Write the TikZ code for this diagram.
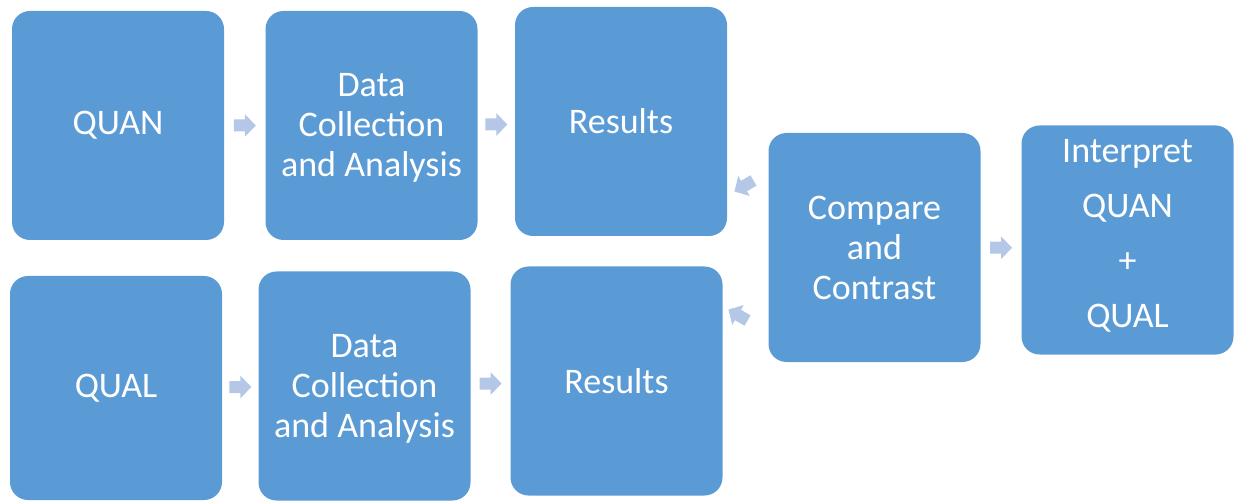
\documentclass[tikz,border=0pt]{standalone}
\usepackage{fontspec}
\setmainfont{Carlito}
\usetikzlibrary{calc}
\definecolor{boxblue}{HTML}{5B9BD5}
\definecolor{arrowblue}{HTML}{B4C7E7}
\tikzset{
  box/.style={fill=boxblue, rounded corners=18pt, text=white, align=center,
    minimum width=212pt, minimum height=229pt, inner sep=0pt,
    font=\fontsize{36}{40}\selectfont},
  boxtext/.style={text=white, align=center, inner sep=0pt, font=\fontsize{36}{55}\selectfont},
  blockarr/.pic={\fill[arrowblue] (-11,-6) -- (0,-6) -- (0,-11.5) -- (11,0) -- (0,11.5) -- (0,6) -- (-11,6) -- cycle;}
}
\begin{document}
\begin{tikzpicture}[x=1pt,y=-1pt]
\useasboundingbox (0,0) rectangle (1238,502);
\node[box] (q1) at (118,125.5) {QUAN};
\node[box] (d1) at (371.5,125.5) {\strut Data\\Collection\\and Analysis};
\node[box] (r1) at (621,121.5) {Results};
\node[box, minimum height=224pt] (q2) at (116,388) {QUAL};
\node[box] (d2) at (364.5,386) {\strut Data\\Collection\\and Analysis};
\node[box] (r2) at (616.5,381) {Results};
\node[box] (c) at (874.5,247.5) {Compare\\and\\Contrast};
\node[box] (i) at (1127.5,240) {};
\node[boxtext] (itext) at ($(i.center)+(0,-4)$) {Interpret\\QUAN\\+\\QUAL};
\path ($(q1.east)!0.5!(d1.west)$) pic {blockarr};
\path ($(d1.east)!0.5!(r1.west)$) ++(0,1) pic {blockarr};
\path ($(q2.east)!0.5!(d2.west)$) pic {blockarr};
\path ($(d2.east)!0.5!(r2.west)$) pic {blockarr};
\path ($(c.east)!0.5!(i.west)$) ++(0,4) pic {blockarr};
\path (744,186) pic[rotate=210] {blockarr};
\path (738,315) pic[rotate=150] {blockarr};
\end{tikzpicture}
\end{document}
